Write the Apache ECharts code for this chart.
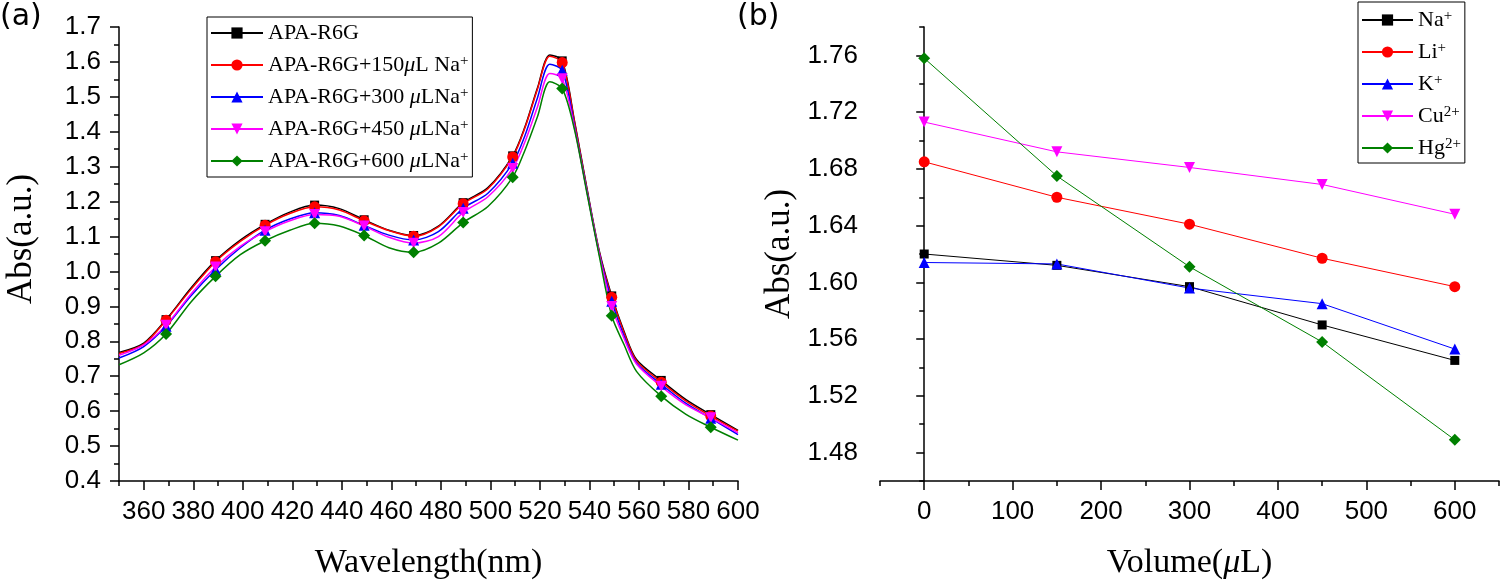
<!DOCTYPE html>
<html>
<head>
<meta charset="utf-8">
<title>APA-R6G absorbance</title>
<script src="https://cdn.jsdelivr.net/npm/echarts@6.0.0/dist/echarts.min.js"></script>
<style>
html, body { margin: 0; padding: 0; background: #fff; }
#main { width: 1500px; height: 585px; }
</style>
</head>
<body>
<div id="main"></div>
<script>
// ---- panel (a): spectra ----
var wavelengths = [350, 360, 369, 379, 389, 399, 409, 419, 429, 439, 449, 459, 469, 479, 489, 499,
                   509, 514, 519, 524, 529, 534, 539, 544, 549, 554, 559, 569, 579, 589, 600];
var markerWl = [369, 389, 409, 429, 449, 469, 489, 509, 529, 549, 569, 589];

var absR6G  = [0.768, 0.795, 0.862, 0.952, 1.031, 1.090, 1.135, 1.170, 1.190, 1.180, 1.148, 1.118, 1.103, 1.130, 1.197, 1.240,
               1.331, 1.415, 1.525, 1.620, 1.603, 1.430, 1.238, 1.058, 0.930, 0.828, 0.748, 0.688, 0.633, 0.590, 0.545];
var abs150  = [0.765, 0.792, 0.860, 0.948, 1.028, 1.086, 1.132, 1.166, 1.185, 1.176, 1.145, 1.117, 1.101, 1.128, 1.194, 1.237,
               1.328, 1.412, 1.522, 1.616, 1.598, 1.426, 1.234, 1.054, 0.926, 0.824, 0.744, 0.683, 0.629, 0.586, 0.543];
var abs300  = [0.752, 0.785, 0.843, 0.930, 1.005, 1.068, 1.118, 1.150, 1.168, 1.160, 1.132, 1.104, 1.090, 1.114, 1.181, 1.224,
               1.310, 1.390, 1.497, 1.593, 1.576, 1.415, 1.230, 1.050, 0.915, 0.815, 0.738, 0.677, 0.622, 0.580, 0.533];
var abs450  = [0.760, 0.790, 0.846, 0.935, 1.013, 1.072, 1.114, 1.145, 1.163, 1.158, 1.130, 1.098, 1.081, 1.100, 1.169, 1.214,
               1.295, 1.372, 1.471, 1.567, 1.552, 1.410, 1.228, 1.050, 0.900, 0.808, 0.735, 0.671, 0.618, 0.581, 0.538];
var abs600  = [0.733, 0.767, 0.821, 0.912, 0.986, 1.048, 1.088, 1.118, 1.138, 1.130, 1.103, 1.068, 1.055, 1.081, 1.140, 1.186,
               1.270, 1.348, 1.443, 1.543, 1.524, 1.405, 1.224, 1.043, 0.873, 0.790, 0.714, 0.643, 0.591, 0.554, 0.517];

var specNames   = ['APA-R6G', 'APA-R6G+150μL Na+', 'APA-R6G+300 μLNa+', 'APA-R6G+450 μLNa+', 'APA-R6G+600 μLNa+'];
var specLegend  = ['{t|APA-R6G}', '{t|APA-R6G+150}{i|μ}{t|L Na}{s|+}', '{t|APA-R6G+300 }{i|μ}{t|LNa}{s|+}',
                   '{t|APA-R6G+450 }{i|μ}{t|LNa}{s|+}', '{t|APA-R6G+600 }{i|μ}{t|LNa}{s|+}'];
var wlTicks      = [360, 380, 400, 420, 440, 460, 480, 500, 520, 540, 560, 580, 600];
var wlMinorTicks = [350, 370, 390, 410, 430, 450, 470, 490, 510, 530, 550, 570, 590];

// ---- panel (b): absorbance vs added volume ----
var volumes = [0, 150, 300, 450, 600];
var naAbs = [1.620, 1.612, 1.597, 1.570, 1.545];
var liAbs = [1.685, 1.660, 1.641, 1.617, 1.597];
var kAbs  = [1.614, 1.613, 1.596, 1.585, 1.553];
var cuAbs = [1.713, 1.692, 1.681, 1.669, 1.648];
var hgAbs = [1.758, 1.675, 1.611, 1.558, 1.489];

var ionNames  = ['Na+', 'Li+', 'K+', 'Cu2+', 'Hg2+'];
var ionLegend = ['{t|Na}{s|+}', '{t|Li}{s|+}', '{t|K}{s|+}', '{t|Cu}{s|2+}', '{t|Hg}{s|2+}'];
var volTicks      = [0, 100, 200, 300, 400, 500, 600];
var volMinorTicks = [-50, 50, 150, 250, 350, 450, 550, 650];
var absTicksB      = [1.48, 1.52, 1.56, 1.60, 1.64, 1.68, 1.72, 1.76];
var absMinorTicksB = [1.46, 1.50, 1.54, 1.58, 1.62, 1.66, 1.70, 1.74, 1.78];

var colors  = ['#000000', '#ff0000', '#0000ff', '#ff00ff', '#008000'];
var symbols = ['rect', 'circle', 'triangle', 'path://M0,0 L10,0 L5,10 Z', 'diamond'];
var symSizes = [9, 11, 11, 11, 12];

var serif = 'Liberation Serif';
var sans = 'Liberation Sans';
var tickSize = 26;

var richLegend = {
    t: { fontFamily: serif, fontSize: 22, lineHeight: 22, color: '#000' },
    i: { fontFamily: serif, fontSize: 22, lineHeight: 22, fontStyle: 'italic', color: '#000' },
    s: { fontFamily: serif, fontSize: 15, lineHeight: 10, verticalAlign: 'top', color: '#000' }
};

function legendFmt(names, labels) {
    return function (name) { return labels[names.indexOf(name)]; };
}

function specData(vals) {
    return wavelengths.map(function (w, i) {
        var d = { value: [w, vals[i]] };
        if (markerWl.indexOf(w) < 0) d.symbol = 'none';
        return d;
    });
}

function pairData(vals) {
    return volumes.map(function (v, i) { return [v, vals[i]]; });
}

var axisLine = { show: true, lineStyle: { color: '#000', width: 1.5 } };

function minorAxis(grid, pos, vmin, vmax, ticks) {
    return {
        type: 'value', gridIndex: grid, position: pos, min: vmin, max: vmax,
        axisLine: { show: false }, axisLabel: { show: false }, splitLine: { show: false },
        axisTick: { show: true, customValues: ticks, length: 5, lineStyle: { color: '#000', width: 1.5 } }
    };
}

var dom = document.getElementById('main');
var myChart = echarts.init(dom, null, { renderer: 'canvas' });

var series = [];
var specSets = [absR6G, abs150, abs300, abs450, abs600];
for (var i = 0; i < specSets.length; i++) {
    series.push({
        name: specNames[i], type: 'line', xAxisIndex: 0, yAxisIndex: 0,
        data: specData(specSets[i]), smooth: 0.3,
        symbol: symbols[i], symbolSize: symSizes[i], showAllSymbol: true,
        lineStyle: { color: colors[i], width: 1.5 },
        itemStyle: { color: colors[i] }
    });
}
var ionSets = [naAbs, liAbs, kAbs, cuAbs, hgAbs];
var ionSizes = [9, 11, 11, 11, 12];
for (var j = 0; j < ionSets.length; j++) {
    series.push({
        name: ionNames[j], type: 'line', xAxisIndex: 2, yAxisIndex: 1,
        data: pairData(ionSets[j]),
        symbol: symbols[j], symbolSize: ionSizes[j], showAllSymbol: true,
        lineStyle: { color: colors[j], width: 1 },
        itemStyle: { color: colors[j] }
    });
}

var option = {
    animation: false,
    backgroundColor: '#fff',
    title: [
        { text: '(a)', left: 0, top: 2, padding: 0, textStyle: { fontFamily: 'DejaVu Sans', fontSize: 30, fontWeight: 'normal', color: '#000' } },
        { text: '(b)', left: 737, top: 2, padding: 0, textStyle: { fontFamily: 'DejaVu Sans', fontSize: 30, fontWeight: 'normal', color: '#000' } }
    ],
    grid: [
        { left: 119, top: 27, width: 619, height: 455 },
        { left: 880, top: 27, width: 619, height: 455 }
    ],
    legend: [
        {
            data: specNames, orient: 'vertical', left: 207, top: 17,
            itemWidth: 52, itemHeight: 14, itemGap: 10, padding: [5, 4, 5, 3],
            borderColor: '#000', borderWidth: 1, backgroundColor: '#fff', borderRadius: 0,
            formatter: legendFmt(specNames, specLegend),
            textStyle: { rich: richLegend }
        },
        {
            data: ionNames, orient: 'vertical', left: 1358, top: 2,
            itemWidth: 51, itemHeight: 14, itemGap: 10, padding: [7, 4, 4, 3],
            borderColor: '#000', borderWidth: 1, backgroundColor: '#fff', borderRadius: 0,
            formatter: legendFmt(ionNames, ionLegend),
            textStyle: { rich: richLegend }
        }
    ],
    xAxis: [
        {
            type: 'value', gridIndex: 0, position: 'bottom', min: 350, max: 600,
            name: 'Wavelength(nm)', nameLocation: 'middle', nameGap: 65,
            nameTextStyle: { fontFamily: serif, fontSize: 34, color: '#000' },
            axisLine: axisLine, splitLine: { show: false },
            axisTick: { show: true, customValues: wlTicks, length: 9, lineStyle: { color: '#000', width: 1.5 } },
            axisLabel: { customValues: wlTicks, margin: 18, fontFamily: sans, fontSize: tickSize, color: '#000' }
        },
        minorAxis(0, 'bottom', 350, 600, wlMinorTicks),
        {
            type: 'value', gridIndex: 1, position: 'bottom', min: -50, max: 650,
            name: '{a|Volume(}{i|μ}{a|L)}', nameLocation: 'middle', nameGap: 65,
            nameTextStyle: { rich: {
                a: { fontFamily: serif, fontSize: 34, color: '#000' },
                i: { fontFamily: serif, fontSize: 34, fontStyle: 'italic', color: '#000' }
            } },
            axisLine: axisLine, splitLine: { show: false },
            axisTick: { show: true, customValues: volTicks, length: 9, lineStyle: { color: '#000', width: 1.5 } },
            axisLabel: { customValues: volTicks, margin: 18, fontFamily: sans, fontSize: tickSize, color: '#000' }
        },
        minorAxis(1, 'bottom', -50, 650, volMinorTicks)
    ],
    yAxis: [
        {
            type: 'value', gridIndex: 0, position: 'left', min: 0.4, max: 1.7, interval: 0.1,
            name: 'Abs(a.u.)', nameLocation: 'middle', nameGap: 80,
            nameTextStyle: { fontFamily: serif, fontSize: 35, color: '#000', padding: [0, 0, 0, 30] },
            axisLine: axisLine, splitLine: { show: false },
            axisTick: { show: true, length: 9, lineStyle: { color: '#000', width: 1.5 } },
            minorTick: { show: true, splitNumber: 2, length: 5, lineStyle: { color: '#000', width: 1.5 } },
            axisLabel: { margin: 18, fontFamily: sans, fontSize: tickSize, color: '#000',
                formatter: function (v) { return v.toFixed(1); } }
        },
        {
            type: 'value', gridIndex: 1, position: 'left', min: 1.46, max: 1.78,
            name: 'Abs(a.u.)', nameLocation: 'middle', nameGap: 83,
            nameTextStyle: { fontFamily: serif, fontSize: 35, color: '#000' },
            axisLine: axisLine, splitLine: { show: false },
            axisTick: { show: true, customValues: absTicksB, length: 8, lineStyle: { color: '#000', width: 1.5 } },
            axisLabel: { customValues: absTicksB, margin: 22, fontFamily: sans, fontSize: tickSize, color: '#000',
                formatter: function (v) { return v.toFixed(2); } }
        },
        minorAxis(1, 'left', 1.46, 1.78, absMinorTicksB)
    ],
    series: series
};

if (option && typeof option === 'object') {
    myChart.setOption(option, true);
}
</script>
</body>
</html>
